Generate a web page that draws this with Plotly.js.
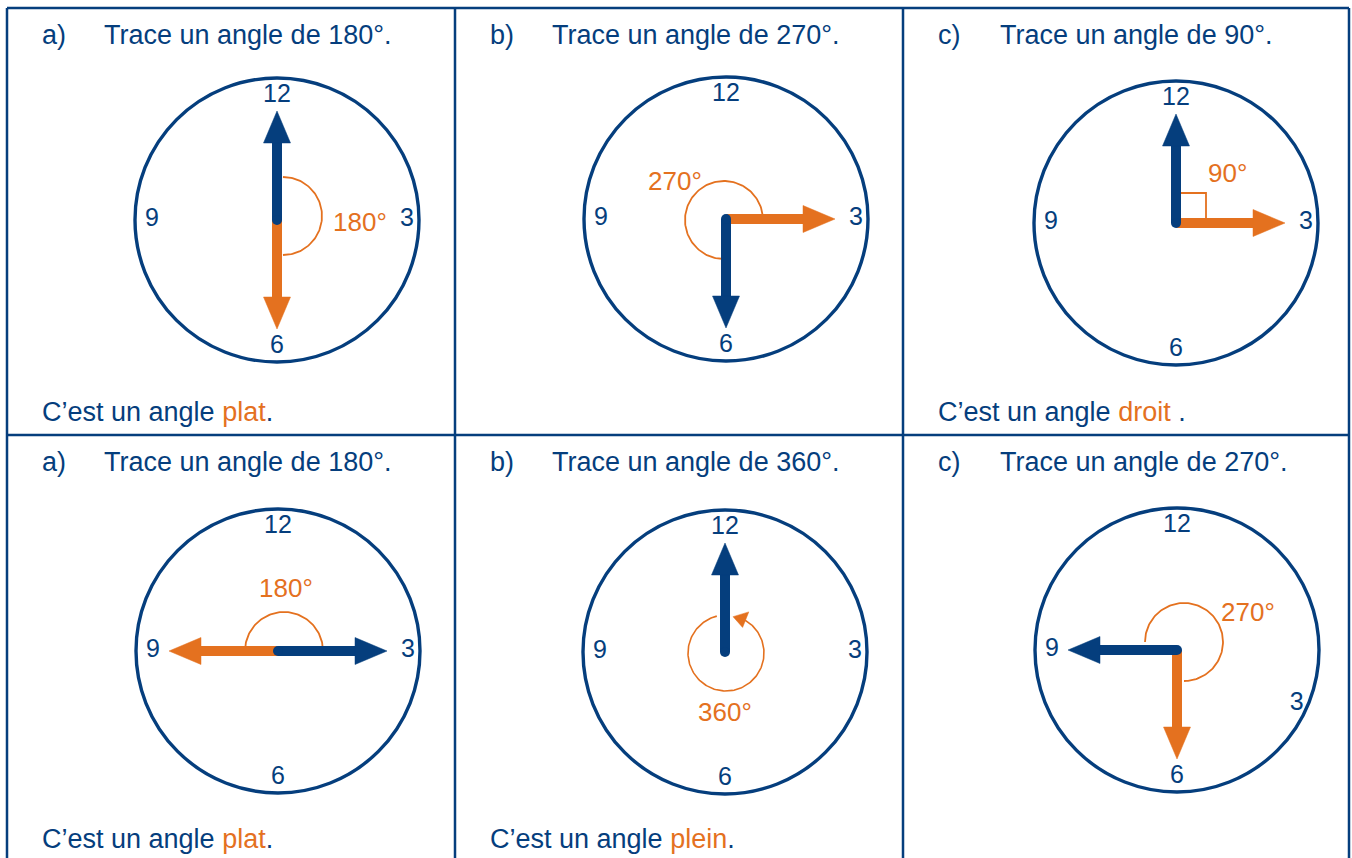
<!DOCTYPE html>
<html>
<head>
<meta charset="utf-8">
<script src="https://cdn.plot.ly/plotly-3.0.1.min.js"></script>
<style>html,body{margin:0;padding:0;background:#fff;}#chart{width:1352px;height:858px;}</style>
</head>
<body>
<div id="chart"></div>
<script>
// ---------- DATA ----------
const panelLetters = ['a)', 'b)', 'c)', 'a)', 'b)', 'c)'];
const angleDegrees = [180, 270, 90, 180, 360, 270];
const angleNames = ['plat', null, 'droit', 'plat', 'plein', null];
const nameEndings = ['.', '', ' .', '.', '.', ''];
const blueHandHours = [12, 6, 12, 3, 12, 9];
const orangeHandHours = [6, 3, 3, 9, null, 6];
const arcStartHours = [12, 6, 12, 9, 12, 9];
const clockNumberLabels = ['12', '3', '6', '9'];
const clockNumberHours = [
  [12, 3, 6, 9], [12, 3, 6, 9], [12, 3, 6, 9],
  [12, 3, 6, 9], [12, 3, 6, 9], [12, 3.8, 6, 9]
];

// ---------- LAYOUT / STYLE ----------
const BLUE = '#053e7d';
const ORANGE = '#e4711f';
const FONT = 'Liberation Sans, Arial, sans-serif';
const W = 1352, H = 858;
const colLeft = [7, 455, 903], colRight = 1349;
const rowTop = [8, 435];
const clockCenters = [[277, 220], [726, 219], [1176, 223], [278, 651], [725, 652], [1177, 650]];
const clockR = 142;
const arcOffsets = [[6, -4], [-2, 1], [0, 0], [6, 0], [1, 1], [7, -8]];
const arcR = 39;
const degLabelOffsets = [[83, 2], [-51, -38], [51, -50], [8, -63], [0, 60], [71, -38]];
const numberRadius = {12: 124, 3: 130, 6: 127, 9: 125, 3.8: 131};
const handLen = 109, headLen = 33, headHalf = 13.5, shaftW = 10;

function pt(c, r, deg) {
  const a = deg * Math.PI / 180;
  return [c[0] + r * Math.sin(a), c[1] - r * Math.cos(a)];
}
function hourDeg(h) { return (h % 12) * 30; }

const traces = [];
const annotations = [];
const shapes = [];

// frame
const frameLines = [
  [colLeft[0], rowTop[0], colRight, rowTop[0]],
  [colLeft[0], rowTop[1], colRight, rowTop[1]],
  [colLeft[0], rowTop[0], colLeft[0], H],
  [colLeft[1], rowTop[0], colLeft[1], H],
  [colLeft[2], rowTop[0], colLeft[2], H],
  [colRight, rowTop[0], colRight, H]
];
frameLines.forEach(l => shapes.push({type: 'line', xref: 'x', yref: 'y', x0: l[0], y0: l[1], x1: l[2], y1: l[3], line: {color: BLUE, width: 2.5}}));

function addHand(c, hour, color) {
  const d = hourDeg(hour);
  const base = pt(c, handLen - headLen + 1, d);
  const tip = pt(c, handLen, d);
  const perp = d + 90;
  const b1 = pt(base, headHalf, perp), b2 = pt(base, -headHalf, perp);
  traces.push({x: [c[0], base[0]], y: [c[1], base[1]], mode: 'lines', line: {color: color, width: shaftW}, hoverinfo: 'skip'});
  traces.push({x: [tip[0], b1[0], b2[0], tip[0]], y: [tip[1], b1[1], b2[1], tip[1]], mode: 'lines', fill: 'toself', fillcolor: color, line: {color: color, width: 0.5}, hoverinfo: 'skip'});
}

for (let i = 0; i < 6; i++) {
  const col = i % 3, row = Math.floor(i / 3);
  const L = colLeft[col], T = rowTop[row];
  const c = clockCenters[i];

  // clock face
  shapes.push({type: 'circle', xref: 'x', yref: 'y', x0: c[0] - clockR, x1: c[0] + clockR, y0: c[1] - clockR, y1: c[1] + clockR, line: {color: BLUE, width: 3.4}});

  // numbers
  const nx = [], ny = [];
  clockNumberHours[i].forEach(h => { const p = pt(c, numberRadius[h], h * 30); nx.push(p[0]); ny.push(p[1]); });
  traces.push({x: nx, y: ny, text: clockNumberLabels, mode: 'text', textposition: 'middle center', textfont: {family: FONT, size: 25, color: BLUE}, hoverinfo: 'skip'});

  // angle marker
  const ac = [c[0] + arcOffsets[i][0], c[1] + arcOffsets[i][1]];
  if (angleDegrees[i] === 90) {
    const s = 30;
    const p0 = pt(c, s, hourDeg(blueHandHours[i]));
    const p2 = pt(c, s, hourDeg(orangeHandHours[i]));
    const p1 = [p0[0] + p2[0] - c[0], p0[1] + p2[1] - c[1]];
    traces.push({x: [p0[0], p1[0], p2[0]], y: [p0[1], p1[1], p2[1]], mode: 'lines', line: {color: ORANGE, width: 1.8}, hoverinfo: 'skip'});
  } else if (angleDegrees[i] === 360) {
    const ax = [], ay = [];
    for (let a = 30; a <= 346; a += 2) { const p = pt(ac, 38, a); ax.push(p[0]); ay.push(p[1]); }
    traces.push({x: ax, y: ay, mode: 'lines', line: {color: ORANGE, width: 1.6}, hoverinfo: 'skip'});
    const t = pt(ac, 37, 11), q1 = pt(ac, 47, 29), q2 = pt(ac, 30.5, 33);
    traces.push({x: [t[0], q1[0], q2[0], t[0]], y: [t[1], q1[1], q2[1], t[1]], mode: 'lines', fill: 'toself', fillcolor: ORANGE, line: {color: ORANGE, width: 0.5}, hoverinfo: 'skip'});
  } else {
    const ax = [], ay = [];
    const a0 = hourDeg(arcStartHours[i]);
    for (let a = a0; a <= a0 + angleDegrees[i] + 0.01; a += 2) { const p = pt(ac, arcR, a); ax.push(p[0]); ay.push(p[1]); }
    traces.push({x: ax, y: ay, mode: 'lines', line: {color: ORANGE, width: 1.8}, hoverinfo: 'skip'});
  }

  // hands (orange under blue)
  if (orangeHandHours[i] !== null) addHand(c, orangeHandHours[i], ORANGE);
  addHand(c, blueHandHours[i], BLUE);
  traces.push({x: [c[0]], y: [c[1]], mode: 'markers', marker: {color: BLUE, size: shaftW, line: {width: 0}}, hoverinfo: 'skip'});

  // degree label
  annotations.push({xref: 'x', yref: 'y', x: c[0] + degLabelOffsets[i][0], y: c[1] + degLabelOffsets[i][1], text: angleDegrees[i] + '°', showarrow: false, xanchor: 'center', yanchor: 'middle', font: {family: FONT, size: 26, color: ORANGE}});

  // title
  annotations.push({xref: 'x', yref: 'y', x: L + 33, y: T + 27, text: panelLetters[i], showarrow: false, xanchor: 'left', yanchor: 'middle', font: {family: FONT, size: 27, color: BLUE}});
  annotations.push({xref: 'x', yref: 'y', x: L + 95, y: T + 27, text: 'Trace un angle de ' + angleDegrees[i] + '°.', showarrow: false, xanchor: 'left', yanchor: 'middle', font: {family: FONT, size: 27, color: BLUE}});

  // conclusion
  if (angleNames[i] !== null) {
    annotations.push({xref: 'x', yref: 'y', x: L + 33, y: T + 404, text: 'C’est un angle <span style="color:' + ORANGE + '">' + angleNames[i] + '</span>' + nameEndings[i], showarrow: false, xanchor: 'left', yanchor: 'middle', font: {family: FONT, size: 27, color: BLUE}});
  }
}

const layout = {
  width: W, height: H,
  margin: {l: 0, r: 0, t: 0, b: 0},
  paper_bgcolor: '#ffffff', plot_bgcolor: '#ffffff',
  showlegend: false,
  xaxis: {range: [0, W], visible: false, fixedrange: true},
  yaxis: {range: [H, 0], visible: false, fixedrange: true},
  shapes: shapes,
  annotations: annotations
};

Plotly.newPlot('chart', traces, layout, {displayModeBar: false, staticPlot: true});
</script>
</body>
</html>
